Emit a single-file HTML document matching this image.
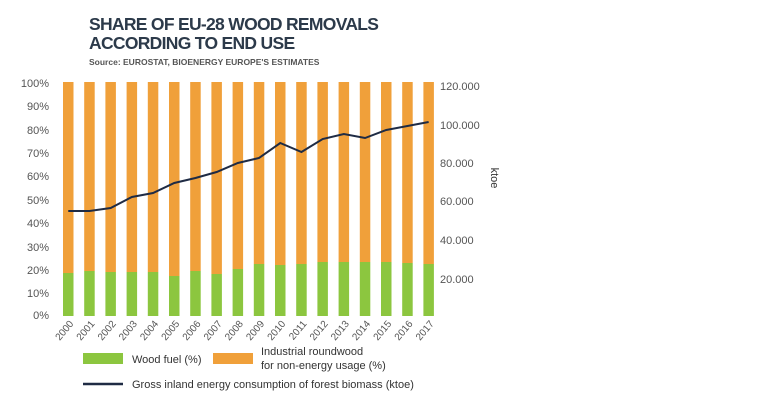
<!DOCTYPE html>
<html><head><meta charset="utf-8"><style>
body{margin:0;width:770px;height:400px;background:#fff;overflow:hidden;font-family:"Liberation Sans",sans-serif;}
</style></head><body>
<svg width="770" height="400" xmlns="http://www.w3.org/2000/svg" font-family="Liberation Sans, sans-serif">
<text x="89" y="30" font-size="17.5" font-weight="bold" fill="#2c3a4a" letter-spacing="-0.7">SHARE OF EU-28 WOOD REMOVALS</text>
<text x="89" y="49" font-size="17.5" font-weight="bold" fill="#2c3a4a" letter-spacing="-0.7">ACCORDING TO END USE</text>
<text x="89" y="65" font-size="8.5" font-weight="bold" fill="#555">Source: EUROSTAT, BIOENERGY EUROPE'S ESTIMATES</text>
<g font-size="11" fill="#555" text-anchor="end">
<text x="49" y="87">100%</text><text x="49" y="110">90%</text><text x="49" y="134">80%</text><text x="49" y="157">70%</text><text x="49" y="180">60%</text><text x="49" y="204">50%</text><text x="49" y="227">40%</text><text x="49" y="251">30%</text><text x="49" y="274">20%</text><text x="49" y="297">10%</text><text x="49" y="319">0%</text>
</g>
<g font-size="11" fill="#555">
<text x="440" y="90">120.000</text><text x="440" y="129">100.000</text><text x="440" y="167">80.000</text><text x="440" y="205">60.000</text><text x="440" y="244">40.000</text><text x="440" y="283">20.000</text>
</g>
<text transform="translate(491,178) rotate(90)" font-size="11" fill="#333" text-anchor="middle">ktoe</text>
<g id="bars"></g>
<polyline id="ln" fill="none" stroke="#1f2b44" stroke-width="2"/>
<g id="yrs" font-size="10" fill="#555"></g>
<rect x="83" y="353" width="40" height="11" fill="#8cc63f"/>
<text x="132" y="363" font-size="11" fill="#333">Wood fuel (%)</text>
<rect x="213" y="353" width="40" height="11" fill="#f0a03a"/>
<text x="261" y="355" font-size="11" fill="#333">Industrial roundwood</text>
<text x="261" y="369" font-size="11" fill="#333">for non-energy usage (%)</text>
<line x1="83" y1="384" x2="123" y2="384" stroke="#1f2b44" stroke-width="2.5"/>
<text x="132" y="388" font-size="11" fill="#333">Gross inland energy consumption of forest biomass (ktoe)</text>
</svg>
<script>
var g=[273,271,272,272,272,276,271,274,269,264,265,264,262,262,262,262,263,264];
var l=[211,211,208,197,193,183,178,172,163,158,143,152,139,134,138,130,126,122];
var ns="http://www.w3.org/2000/svg",b=document.getElementById('bars'),y=document.getElementById('yrs'),pts=[];
for(var i=0;i<18;i++){var x=63+21.2*i;
var r=document.createElementNS(ns,'rect');r.setAttribute('x',x);r.setAttribute('y',82);r.setAttribute('width',10.5);r.setAttribute('height',g[i]-82);r.setAttribute('fill','#f0a03a');b.appendChild(r);
r=document.createElementNS(ns,'rect');r.setAttribute('x',x);r.setAttribute('y',g[i]);r.setAttribute('width',10.5);r.setAttribute('height',316-g[i]);r.setAttribute('fill','#8cc63f');b.appendChild(r);
pts.push((x+5.25)+','+l[i]);
var t=document.createElementNS(ns,'text');t.setAttribute('transform','translate('+(x+11)+',324) rotate(-50)');t.setAttribute('text-anchor','end');t.textContent=2000+i;y.appendChild(t);}
document.getElementById('ln').setAttribute('points',pts.join(' '));
</script>
</body></html>
